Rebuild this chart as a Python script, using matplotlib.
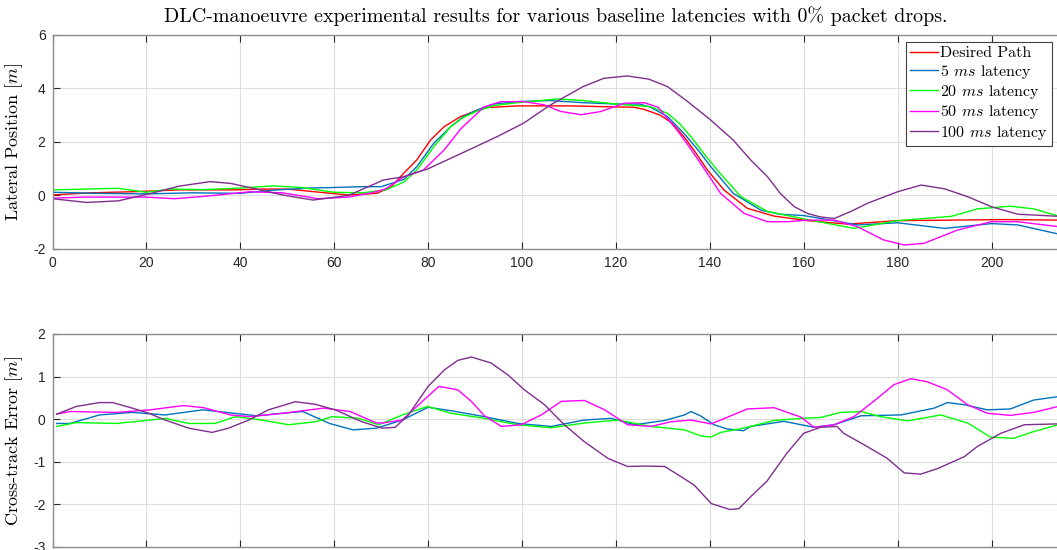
import numpy as np
import matplotlib
matplotlib.use('Agg')
import matplotlib.pyplot as plt

plt.rcParams['mathtext.fontset'] = 'cm'
plt.rcParams['axes.unicode_minus'] = False

# --- lateral position (top) ---
t_des = [0, 8, 17, 27, 38, 45, 50, 57, 63, 69, 72, 74.8, 77.6, 80.5, 83.4, 86.9, 91.9, 99, 110, 120.3,
         123.8, 126, 129.5, 132, 134.5, 137, 139.5, 143, 148, 153.7, 160.8, 169.3, 180, 191.4, 203, 214.5]
y_des = [0.02, 0.1, 0.14, 0.21, 0.21, 0.24, 0.24, 0.12, 0.02, 0.08, 0.3, 0.83, 1.33, 2.07, 2.57, 2.95, 3.28, 3.35, 3.35, 3.31,
         3.30, 3.22, 3.0, 2.7, 2.2, 1.6, 0.95, 0.21, -0.48, -0.77, -0.94, -1.07, -0.94, -0.92, -0.9, -0.92]

t_5 = [0, 10, 20, 30, 40, 47, 55, 60, 66, 70, 74.8, 77.6, 81.2, 84.8, 87.5, 90.5, 94, 99, 106, 113, 120, 125, 127.4,
       131, 134.5, 137.5, 140.2, 145, 150.9, 155, 160, 165, 171.5, 180, 190, 200, 205.6, 214.5]
y_5 = [0.12, 0.08, 0.06, 0.1, 0.08, 0.2, 0.28, 0.3, 0.33, 0.33, 0.6, 1.08, 1.95, 2.57, 2.95, 3.2, 3.42, 3.51, 3.55, 3.47, 3.42, 3.42, 3.3,
       2.95, 2.32, 1.7, 1.08, 0.08, -0.55, -0.7, -0.75, -0.9, -1.1, -1.02, -1.23, -1.05, -1.1, -1.45]

t_20 = [0, 7, 14, 20, 25, 32, 40, 47, 53, 60, 66, 71, 74.8, 77.6, 81.2, 84.8, 87.5, 90.5, 94, 99, 107.5, 113, 120,
        127.4, 131, 133.5, 136, 138.8, 141.6, 146.6, 152.3, 160.8, 170.7, 180, 191.4, 197, 204, 209, 214.5]
y_20 = [0.21, 0.24, 0.27, 0.12, 0.24, 0.22, 0.28, 0.36, 0.3, 0.12, 0.1, 0.21, 0.5, 0.95, 1.82, 2.57, 2.92, 3.16, 3.36, 3.47, 3.61, 3.55, 3.42,
        3.32, 3.07, 2.7, 2.2, 1.55, 0.95, -0.04, -0.6, -0.9, -1.23, -0.94, -0.78, -0.5, -0.4, -0.5, -0.78]

t_50 = [0, 7, 14, 20, 26, 33, 42, 49, 56.6, 63, 68, 71, 74.8, 79, 83.4, 87, 91.9, 95.5, 100.4, 104.7, 108.3,
        112.6, 116.8, 121.8, 126, 129, 133, 135.5, 138, 142.3, 147.3, 152.3, 156.5, 160.8, 166.5, 171.5, 177, 181.4,
        185.6, 192.8, 200, 205.6, 214.5]
y_50 = [-0.1, -0.06, -0.06, -0.06, -0.12, -0.02, 0.14, 0.1, -0.12, -0.06, 0.1, 0.25, 0.70, 0.95, 1.7, 2.5, 3.31, 3.51, 3.51, 3.39, 3.14,
        3.02, 3.14, 3.45, 3.47, 3.3, 2.45, 1.85, 1.21, 0.08, -0.67, -0.98, -0.98, -0.92, -0.92, -1.17, -1.66, -1.85,
        -1.79, -1.29, -0.98, -0.98, -1.17]

t_100 = [0, 7.3, 14, 21, 27, 33.6, 38, 43.5, 49, 55.5, 63, 70.5, 74.8, 80, 88, 94.7, 100.4, 106, 113, 117.4,
         122.4, 127, 131, 135, 140.2, 145, 148.7, 152.3, 155, 158, 160.8, 163.5, 166.5, 170, 173.6, 180, 185, 190, 195,
         200, 205.6, 214.5]
y_100 = [-0.12, -0.26, -0.2, 0.08, 0.35, 0.52, 0.45, 0.24, 0.02, -0.17, 0.0, 0.58, 0.70, 1.0, 1.65, 2.2, 2.71, 3.38, 4.07, 4.38,
         4.47, 4.35, 4.07, 3.55, 2.82, 2.07, 1.33, 0.7, 0.08, -0.42, -0.67, -0.8, -0.86, -0.6, -0.29, 0.14, 0.39, 0.25, -0.05,
         -0.42, -0.70, -0.78]

# --- cross-track error (bottom) ---
e_t5 = [0.9, 3.7, 10, 17, 24, 32, 38.6, 43.5, 49, 53.3, 59, 64, 69, 71.6, 74.5, 80, 84.8, 92, 99.1, 106.2,
        113.3, 119, 124, 130.4, 134.6, 136, 138, 140.9, 143.7, 147.2, 148.7, 155.8, 162.2, 166.5, 172.2,
        180.7, 187.8, 190.6, 194.2, 199.1, 204, 209, 214.2]
e_5 = [-0.1, -0.1, 0.1, 0.16, 0.1, 0.22, 0.14, 0.08, 0.14, 0.18, -0.1, -0.25, -0.21, -0.12, -0.02, 0.28, 0.2, 0.06, -0.1, -0.17,
       -0.02, 0.02, -0.13, -0.03, 0.1, 0.18, 0.08, -0.13, -0.23, -0.27, -0.17, -0.05, -0.19, -0.13, 0.08,
       0.1, 0.26, 0.39, 0.34, 0.22, 0.24, 0.45, 0.53]

e_t20 = [0.9, 5.1, 13.7, 20.8, 24, 29, 34.6, 39, 44.6, 50.3, 56, 59.6, 65.2, 69.5, 74.5, 79.9, 84.8, 92, 99,
         106.2, 113.3, 120.4, 127.5, 134.6, 138, 140.2, 142.3, 147.2, 153.7, 159.4, 163.6, 167.9, 172.2,
         176.4, 182.1, 189.2, 194.9, 199.8, 204.7, 209, 214.2]
e_20 = [-0.17, -0.08, -0.1, -0.02, 0.02, -0.1, -0.1, 0.06, -0.02, -0.13, -0.06, 0.06, 0.02, -0.13, 0.1, 0.30, 0.14, 0.02, -0.13,
        -0.2, -0.09, -0.02, -0.17, -0.25, -0.39, -0.42, -0.31, -0.21, -0.03, 0.02, 0.04, 0.16, 0.18,
        0.06, -0.04, 0.1, -0.09, -0.42, -0.45, -0.29, -0.13]

e_t50 = [0.9, 3.7, 13.7, 20.8, 27.9, 32.2, 37.9, 42, 49.2, 57.7, 63.4, 69, 70.2, 74.5, 78, 82.3, 86.3, 89.2,
         92, 95.6, 99.8, 104.1, 108.4, 113.3, 117.6, 122.5, 127.5, 131.7, 136, 140.2, 142.3, 148, 153.7,
         159.4, 162.2, 166.5, 170.7, 175.7, 179.2, 182.8, 186.3, 190.6, 194.9, 199.1, 204, 209, 214.2]
e_50 = [0.12, 0.18, 0.16, 0.22, 0.32, 0.27, 0.1, 0.06, 0.14, 0.26, 0.18, -0.09, -0.09, -0.02, 0.34, 0.77, 0.69, 0.42,
        0.08, -0.17, -0.13, 0.1, 0.42, 0.44, 0.22, -0.13, -0.17, -0.06, -0.02, -0.11, -0.02, 0.24, 0.27,
        0.05, -0.19, -0.13, 0.06, 0.49, 0.81, 0.95, 0.88, 0.69, 0.34, 0.14, 0.09, 0.16, 0.30]

e_t100 = [0.9, 5.1, 10, 12.8, 17, 20.5, 24, 29, 34, 37.5, 41.8, 46, 51.7, 56, 60.2, 65.9, 70.2, 73, 75.8, 80,
          83.5, 86.3, 89.2, 93.4, 97, 100.5, 104.8, 109, 113.3, 118.3, 122.5, 126, 130.4, 133.9, 136.7,
          140.3, 144.3, 146.2, 148.7, 152.2, 156.4, 160, 163.6, 167.1, 168.5, 173.5, 177.8, 181.4, 184.9,
          188.5, 194.2, 197, 202, 207, 214.2]
e_100 = [0.12, 0.30, 0.39, 0.39, 0.26, 0.14, -0.02, -0.21, -0.31, -0.21, -0.02, 0.22, 0.41, 0.35, 0.22, -0.06, -0.21, -0.19, 0.1, 0.77,
         1.16, 1.38, 1.46, 1.32, 1.04, 0.69, 0.34, -0.13, -0.53, -0.92, -1.11, -1.10, -1.11, -1.35, -1.55,
         -1.98, -2.12, -2.1, -1.82, -1.45, -0.80, -0.33, -0.19, -0.17, -0.33, -0.64, -0.92, -1.26, -1.29,
         -1.16, -0.88, -0.64, -0.33, -0.13, -0.11]

labels = ['Desired Path', '5 $ms$ latency', '20 $ms$ latency', '50 $ms$ latency', '100 $ms$ latency']
colors = ['#ff0000', '#0072bd', '#00ff00', '#ff00ff', '#7e2f8e']

W, H = 1057, 550
fig = plt.figure(figsize=(W / 100, H / 100), dpi=100)

# axes run past the right edge, like the cropped original
x0 = 52.5 / W
xw = 220 * 4.695 / W
ax1 = fig.add_axes([x0, 1 - 249 / H, xw, 214 / H])
ax2 = fig.add_axes([x0, 1 - 547 / H, xw, 213 / H])

top = [(t_des, y_des), (t_5, y_5), (t_20, y_20), (t_50, y_50), (t_100, y_100)]
for (tt, yy), c, lab in zip(top, colors, labels):
    ax1.plot(tt, yy, color=c, lw=1.0, label=lab)

bot = [(e_t5, e_5), (e_t20, e_20), (e_t50, e_50), (e_t100, e_100)]
for (tt, yy), c in zip(bot, colors[1:]):
    ax2.plot(tt, yy, color=c, lw=1.0)

for ax in (ax1, ax2):
    ax.set_xlim(0, 220)
    ax.set_xticks(np.arange(0, 201, 20))
    ax.grid(True, color='#dedede', lw=0.8)
    ax.set_axisbelow(True)
    ax.tick_params(direction='in', length=5, width=0.8, color='#262626', top=True, right=True,
                   labelsize=10, labelcolor='#262626', pad=5)
    for s in ax.spines.values():
        s.set_color('#8c8c8c')
        s.set_linewidth(1.0)
    for lbl in ax.get_xticklabels() + ax.get_yticklabels():
        lbl.set_family('Liberation Sans')
ax2.tick_params(labelbottom=False)

ax1.set_ylim(-2, 6)
ax1.set_yticks([-2, 0, 2, 4, 6])
ax2.set_ylim(-3, 2)
ax2.set_yticks([-3, -2, -1, 0, 1, 2])

ax1.set_ylabel('Lateral Position [$m$]', family='cmr10', fontsize=13)
ax2.set_ylabel('Cross-track Error [$m$]', family='cmr10', fontsize=13)
ax1.yaxis.set_label_coords(-27.5 / (xw * W), 0.5)
ax2.yaxis.set_label_coords(-27.5 / (xw * W), 0.5)

fig.text(556 / W, 1 - 22 / H, 'DLC-manoeuvre experimental results for various baseline latencies with 0% packet drops.',
         family='cmr10', fontsize=14.4, ha='center', va='baseline')

leg = fig.legend(*ax1.get_legend_handles_labels(), loc='upper right',
                 bbox_to_anchor=(1052 / W, 1 - 42 / H), bbox_transform=fig.transFigure,
                 prop={'family': 'cmr10', 'size': 11.5}, fancybox=False, framealpha=1,
                 edgecolor='#404040', borderaxespad=0, handlelength=1.75, handletextpad=0.15,
                 labelspacing=0.15, borderpad=0.25)
leg.get_frame().set_linewidth(0.8)

fig.savefig('out.png', dpi=100)
